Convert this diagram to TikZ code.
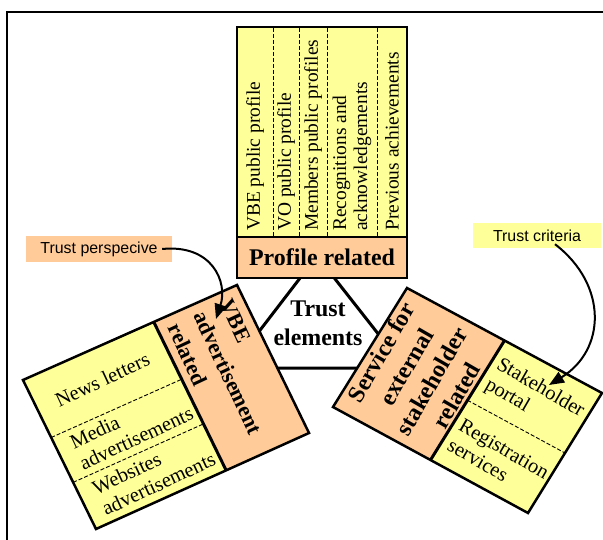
\documentclass[tikz,border=0pt]{standalone}
\usepackage{fontspec}
\setmainfont{Liberation Serif}
\newfontfamily\notefont{Liberation Sans}
\usetikzlibrary{calc}
\usetikzlibrary{arrows.meta}
\definecolor{boxyellow}{HTML}{FFFF99}
\definecolor{boxorange}{HTML}{FFCC99}
\tikzset{
  item/.style={font=\fontsize{19.5}{21}\selectfont, inner sep=2bp, align=left},
  tilted/.style={item, font=\fontsize{20.5}{23}\selectfont},
  head/.style={font=\fontsize{24}{29}\selectfont\bfseries, inner sep=2bp, align=center},
  note/.style={font=\notefont\fontsize{16}{18}\selectfont, inner sep=0pt},
  border/.style={line width=2.5bp},
  split/.style={dash pattern=on 4bp off 2bp, line width=0.9bp},
  pointer/.style={line width=2bp, -{Triangle[length=15bp,width=12bp]}}
}
\begin{document}
\begin{tikzpicture}[x=1bp,y=-1bp]
\useasboundingbox (0,0) rectangle (603,540);
%FRAME
\draw[line width=2bp] (7,540) -- (7,12) -- (603,12);
%TRIANGLE
\draw[line width=3bp, fill=white] (317,256) -- (231,368) -- (405,368) -- cycle;
\node[head] (trust) at (318,323) {Trust\\elements};
%PROFILE
\filldraw[border, fill=boxyellow] (237,27) rectangle (407,237);
\filldraw[border, fill=boxorange] (237,237) rectangle (407,278);
\foreach \x in {273,299,327,377} \draw[split] (\x,28) -- (\x,236);
\node[item, rotate=90, anchor=west] (vbepro) at (255,233) {VBE public profile};
\node[item, rotate=90, anchor=west] (vopro) at (286,233) {VO public profile};
\node[item, rotate=90, anchor=west] (mempro) at (313,233) {Members public profiles};
\node[item, rotate=90, anchor=west] (recog) at (352,233) {Recognitions and\\acknowledgements};
\node[item, rotate=90, anchor=west] (prev) at (392,233) {Previous achievements};
\node[head] (prof) at (322,257.5) {Profile related};
%ADVERTISEMENT
\coordinate (la) at (23,380);
\coordinate (lb) at (237,285);
\coordinate (lc) at (309,433);
\coordinate (ld) at (96,529);
\coordinate (le) at ($(la)!0.611!(lb)$);
\coordinate (lf) at ($(ld)!0.611!(lc)$);
\coordinate (lg1) at ($(la)!0.386!(ld)$);
\coordinate (lh1) at ($(le)!0.386!(lf)$);
\coordinate (lg2) at ($(la)!0.687!(ld)$);
\coordinate (lh2) at ($(le)!0.687!(lf)$);
\fill[boxyellow] (la) -- (le) -- (lf) -- (ld) -- cycle;
\fill[boxorange] (le) -- (lb) -- (lc) -- (lf) -- cycle;
\draw[split] (lg1) -- (lh1);
\draw[split] (lg2) -- (lh2);
\draw[border] (la) -- (lb) -- (lc) -- (ld) -- cycle;
\draw[line width=3bp] (le) -- (lf);
\node[tilted, rotate=25] (news) at ($(la)!0.5!(lh1)$) {News letters};
\node[tilted, rotate=25, anchor=west, inner xsep=15bp] (media) at ($(lg1)!0.5!(lg2)$) {Media\\advertisements};
\node[tilted, rotate=25, anchor=west, inner xsep=15bp] (web) at ($(lg2)!0.5!(ld)$) {Websites\\advertisements};
\node[head, font=\fontsize{22}{29}\selectfont\bfseries, rotate=-65, anchor=west, align=left, inner xsep=10bp] (vbeadv) at ($(le)!0.5!(lb)$) {VBE\\advertisement\\related};
%SERVICE
\coordinate (ra) at (407,288);
\coordinate (rb) at (602,393);
\coordinate (rc) at (528,513);
\coordinate (rd) at (333,407);
\coordinate (re) at ($(ra)!0.5!(rb)$);
\coordinate (rf) at ($(rd)!0.5!(rc)$);
\coordinate (rg) at ($(re)!0.5!(rf)$);
\coordinate (rh) at ($(rb)!0.5!(rc)$);
\fill[boxorange] (ra) -- (re) -- (rf) -- (rd) -- cycle;
\fill[boxyellow] (re) -- (rb) -- (rc) -- (rf) -- cycle;
\draw[split] (rg) -- (rh);
\draw[border] (ra) -- (rb) -- (rc) -- (rd) -- cycle;
\draw[line width=3bp] (re) -- (rf);
\node[head, rotate=60] (serv) at ($(ra)!0.5!(rf)$) {Service for\\external\\stakeholder\\related};
\node[tilted, rotate=-30, anchor=west, inner xsep=7bp] (portal) at ($(re)!0.5!(rg)$) {Stakeholder\\portal};
\node[tilted, rotate=-30, anchor=west, inner xsep=7bp] (regist) at ($(rg)!0.5!(rf)$) {Registration\\services};
%NOTES
\node[note, fill=boxorange, minimum width=146bp, minimum height=26bp] (persp) at (99,249) {Trust perspecive};
\node[note, fill=boxyellow, minimum width=128bp, minimum height=25bp] (crit) at (537,235.5) {Trust criteria};
\coordinate (perspend) at (216,319);
\coordinate (critend) at (549,385);
\draw[pointer] ([xshift=-10bp]persp.east) .. controls (212,244) and (228,282) .. (perspend);
\draw[pointer] ([xshift=18bp,yshift=4bp]crit.south) .. controls (608,285) and (606,350) .. (critend);
\end{tikzpicture}
\end{document}
